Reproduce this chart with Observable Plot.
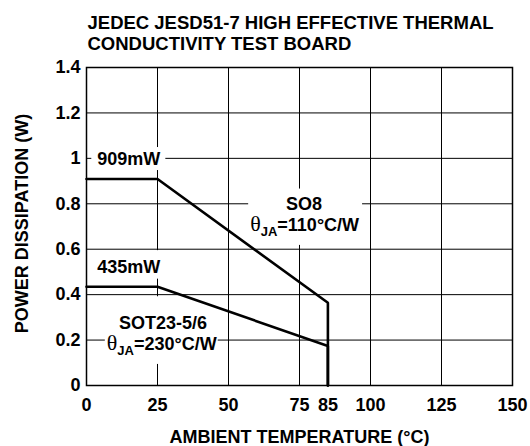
<!DOCTYPE html>
<html>
<head>
<meta charset="utf-8">
<script src="https://cdn.jsdelivr.net/npm/d3@7"></script>
<script src="https://cdn.jsdelivr.net/npm/@observablehq/plot@0.6"></script>
<style>
  html, body { margin: 0; padding: 0; background: #fff; }
</style>
</head>
<body>
<script>
const titleLines = ["JEDEC JESD51-7 HIGH EFFECTIVE THERMAL", "CONDUCTIVITY TEST BOARD"];
const xLabel = "AMBIENT TEMPERATURE (°C)";
const yLabel = "POWER DISSIPATION (W)";

const temperature = [0, 25, 85, 85];
const so8Power = [0.909, 0.909, 0.364, 0];
const sot23Power = [0.435, 0.435, 0.174, 0];

const xTicks = [0, 25, 50, 75, 85, 100, 125, 150];
const xGrid = [0, 25, 50, 75, 100, 125, 150];
const yTicks = [0, 0.2, 0.4, 0.6, 0.8, 1, 1.2, 1.4];
const yTickLabels = ["0", "0.2", "0.4", "0.6", "0.8", "1", "1.2", "1.4"];

const annoText = ["909mW", "435mW", "SO8", "θJA=110°C/W", "SOT23-5/6", "θJA=230°C/W"];
const annoX = [3.8, 3.8, 76.6, 76.8, 26.9, 26.5];
const annoY = [0.996, 0.52, 0.80, 0.706, 0.273, 0.182];

const FONT = "'Liberation Sans', Arial, Helvetica, sans-serif";
const leftIdx = [0, 1];
const centerIdx = [2, 3, 4, 5];

const svg = Plot.plot({
  width: 530,
  height: 446,
  marginLeft: 86,
  marginRight: 18,
  marginTop: 67,
  marginBottom: 61,
  style: { fontFamily: FONT, fontSize: "18px", fontWeight: "bold", color: "#000", background: "#fff" },
  x: { domain: [0, 150] },
  y: { domain: [0, 1.4] },
  marks: [
    Plot.gridX(xGrid, { stroke: "#000", strokeOpacity: 1, strokeWidth: 1 }),
    Plot.gridY(yTicks, { stroke: "#000", strokeOpacity: 1, strokeWidth: 1 }),
    Plot.frame({ stroke: "#000", strokeWidth: 1.5 }),
    Plot.axisX(xTicks, { tickSize: 0, tickPadding: 13, label: null, fontSize: 18 }),
    Plot.axisY(yTicks, { tickSize: 0, tickPadding: 6, label: null, fontSize: 18,
      tickFormat: d => yTickLabels[yTicks.indexOf(d)] }),
    Plot.line(temperature, { x: temperature, y: so8Power, stroke: "#000", strokeWidth: 2.6, strokeLinejoin: "miter" }),
    Plot.line(temperature, { x: temperature, y: sot23Power, stroke: "#000", strokeWidth: 2.6, strokeLinejoin: "miter" }),
    Plot.text(leftIdx, {
      x: i => annoX[i], y: i => annoY[i], text: i => annoText[i],
      textAnchor: "start", lineAnchor: "middle", fontSize: 18, fill: "#000"
    }),
    Plot.text(centerIdx, {
      x: i => annoX[i], y: i => annoY[i], text: i => annoText[i],
      textAnchor: "middle", lineAnchor: "middle", fontSize: 18, fill: "#000"
    }),
    Plot.text([titleLines.join("\n")], {
      frameAnchor: "top-left", textAnchor: "start", lineAnchor: "bottom",
      lineHeight: 21 / 18.5, dx: 1, dy: 49.3 - 67, fontSize: 18.5, fill: "#000"
    }),
    Plot.text([xLabel], {
      frameAnchor: "bottom", textAnchor: "middle", lineAnchor: "bottom",
      dy: 57, fontSize: 18, fill: "#000"
    }),
    Plot.text([yLabel], {
      frameAnchor: "left", textAnchor: "middle", lineAnchor: "bottom",
      rotate: -90, dx: -59, dy: -3, fontSize: 18, fill: "#000"
    })
  ]
});

document.body.append(svg);

// Subscript formatting for θJA labels
const NS = "http://www.w3.org/2000/svg";
const allTexts = Array.from(svg.querySelectorAll("text"));
const annoEls = annoText.map(s => allTexts.find(t => t.textContent === s));
annoEls.forEach(el => {
  if (!el) return;
  const s = el.textContent;
  if (!s.startsWith("θJA")) return;
  el.textContent = "";
  const t1 = document.createElementNS(NS, "tspan");
  t1.setAttribute("font-family", "'Liberation Serif', 'DejaVu Serif', serif");
  t1.setAttribute("font-weight", "normal");
  t1.setAttribute("font-size", "22");
  t1.textContent = "θ";
  const t2 = document.createElementNS(NS, "tspan");
  t2.setAttribute("font-size", "13");
  t2.setAttribute("dy", "5");
  t2.textContent = "JA";
  const t3 = document.createElementNS(NS, "tspan");
  t3.setAttribute("dy", "-5");
  t3.textContent = s.slice(3);
  el.append(t1, t2, t3);
});

// White label backgrounds (computed from rendered text extents)
const boxes = [
  { idx: [0], pad: [6, 5, 2, 1] },
  { idx: [1], pad: [6, 5, 7, 1.5] },
  { idx: [2, 3], pad: [2, 3, 5, 6] },
  { idx: [4, 5], pad: [2, 1, 17, 6] }
];
const sr = svg.getBoundingClientRect();
const bg = document.createElementNS(NS, "g");
boxes.forEach(b => {
  let x0 = Infinity, y0 = Infinity, x1 = -Infinity, y1 = -Infinity;
  b.idx.forEach(i => {
    const el = annoEls[i];
    if (!el) return;
    const r = el.getBoundingClientRect();
    x0 = Math.min(x0, r.left - sr.left); y0 = Math.min(y0, r.top - sr.top);
    x1 = Math.max(x1, r.right - sr.left); y1 = Math.max(y1, r.bottom - sr.top);
  });
  if (!isFinite(x0)) return;
  const [pl, pr, pt, pb] = b.pad;
  const rect = document.createElementNS(NS, "rect");
  rect.setAttribute("x", x0 - pl);
  rect.setAttribute("y", y0 - pt);
  rect.setAttribute("width", x1 - x0 + pl + pr);
  rect.setAttribute("height", y1 - y0 + pt + pb);
  rect.setAttribute("fill", "#fff");
  bg.append(rect);
});
const firstLine = svg.querySelector('g[aria-label="line"]');
if (firstLine) svg.insertBefore(bg, firstLine); else svg.append(bg);
</script>
</body>
</html>
